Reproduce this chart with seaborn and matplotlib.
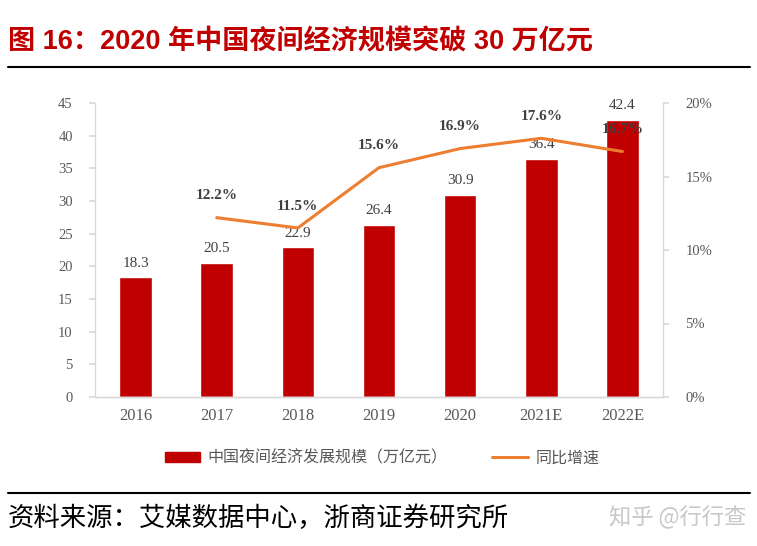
import matplotlib
matplotlib.use("Agg")
import matplotlib.pyplot as plt
import seaborn as sns
import pandas as pd
from matplotlib.lines import Line2D
from matplotlib.patches import Patch

years = ["2016", "2017", "2018", "2019", "2020", "2021E", "2022E"]
scale = [18.3, 20.5, 22.9, 26.4, 30.9, 36.4, 42.4]
growth_years = ["2017", "2018", "2019", "2020", "2021E", "2022E"]
growth = [12.2, 11.5, 15.6, 16.9, 17.6, 16.7]

sns.set_theme(style="white")
plt.rcParams['font.family'] = ['Liberation Serif', 'Noto Sans CJK SC', 'DejaVu Sans']

BAR = "#C00000"
LINE = "#ED7D31"
GRAY = "#595959"
SPINE = "#D9D9D9"

fig = plt.figure(figsize=(7.57, 5.46), dpi=100)
ax = fig.add_axes([95/757, 1-397/546, (663-95)/757, (397-103)/546])

df = pd.DataFrame({"year": years, "scale": scale})
sns.barplot(data=df, x="year", y="scale", color=BAR, width=0.4, ax=ax, saturation=1)
ax.set_ylim(0, 45)
ax.set_xlim(-0.5, 6.5)
ax.set_yticks(range(0, 46, 5))
ax.set_xlabel("")
ax.set_ylabel("")
for i, v in enumerate(scale):
    ax.text(i, v + 1.2, f"{v}", ha="center", va="bottom", fontsize=11,
            color="#404040", family="Liberation Serif")

ax2 = ax.twinx()
gx = [years.index(y) for y in growth_years]
gdf = pd.DataFrame({"x": gx, "g": [g / 100 for g in growth]})
sns.lineplot(data=gdf, x="x", y="g", color=LINE, linewidth=2.2, ax=ax2)
ax2.set_ylim(0, 0.2)
ax2.set_yticks([0, 0.05, 0.10, 0.15, 0.20])
ax2.set_yticklabels(["0%", "5%", "10%", "15%", "20%"])
ax2.set_ylabel("")
ax2.set_xlabel("")
ax2.set_xlim(-0.5, 6.5)
for x, g in zip(gx, growth):
    ax2.text(x, g / 100 + 0.0105, f"{g}%", ha="center", va="bottom", fontsize=11,
             fontweight="bold", color="#404040", family="Liberation Serif")

for a in (ax, ax2):
    a.spines["top"].set_visible(False)
    for s in ["left", "right", "bottom"]:
        a.spines[s].set_color(SPINE)
        a.spines[s].set_linewidth(1.0)
ax2.spines["left"].set_visible(False)
ax.spines["right"].set_visible(False)

ax.tick_params(axis="y", length=4, color=SPINE, labelsize=10.5, labelcolor=GRAY, pad=12, direction="out", left=True)
ax.tick_params(axis="x", length=0, labelsize=12, labelcolor=GRAY, pad=8)
ax2.tick_params(axis="y", length=4, color=SPINE, labelsize=10.5, labelcolor=GRAY, pad=12, direction="out", right=True)
for lbl in ax.get_xticklabels() + ax.get_yticklabels() + ax2.get_yticklabels():
    lbl.set_family("Liberation Serif")

handles = [Patch(facecolor=BAR, edgecolor=BAR), Line2D([0], [0], color=LINE, lw=2.2)]
labels = ["中国夜间经济发展规模（万亿元）", "同比增速"]
fig.legend(handles, labels, loc="center", bbox_to_anchor=(382/757, 1-458/546), ncol=2,
           frameon=False, handlelength=2.2, handleheight=0.6, handletextpad=0.5,
           columnspacing=2.8, labelcolor=GRAY,
           prop={"family": ["Noto Sans CJK SC"], "size": 11.5})

fig.text(8/757, 1-42/546, "图 16：2020 年中国夜间经济规模突破 30 万亿元", ha="left", va="center",
         fontsize=19.5, fontweight="bold", color="#C00000",
         family=["Liberation Sans", "Noto Sans CJK SC"])
fig.add_artist(Line2D([8/757, 750/757], [1-67/546, 1-67/546], color="black", lw=1.5))
fig.add_artist(Line2D([8/757, 750/757], [1-493/546, 1-493/546], color="black", lw=1.5))
fig.text(8/757, 1-518/546, "资料来源：艾媒数据中心，浙商证券研究所", ha="left", va="center",
         fontsize=19, color="black", family=["Noto Sans CJK SC"])
fig.text(746/757, 1-517/546, "知乎 @行行查", ha="right", va="center",
         fontsize=16, color="#C8C8C8", family=["Noto Sans CJK SC"])

fig.savefig("out.png", dpi=100)
